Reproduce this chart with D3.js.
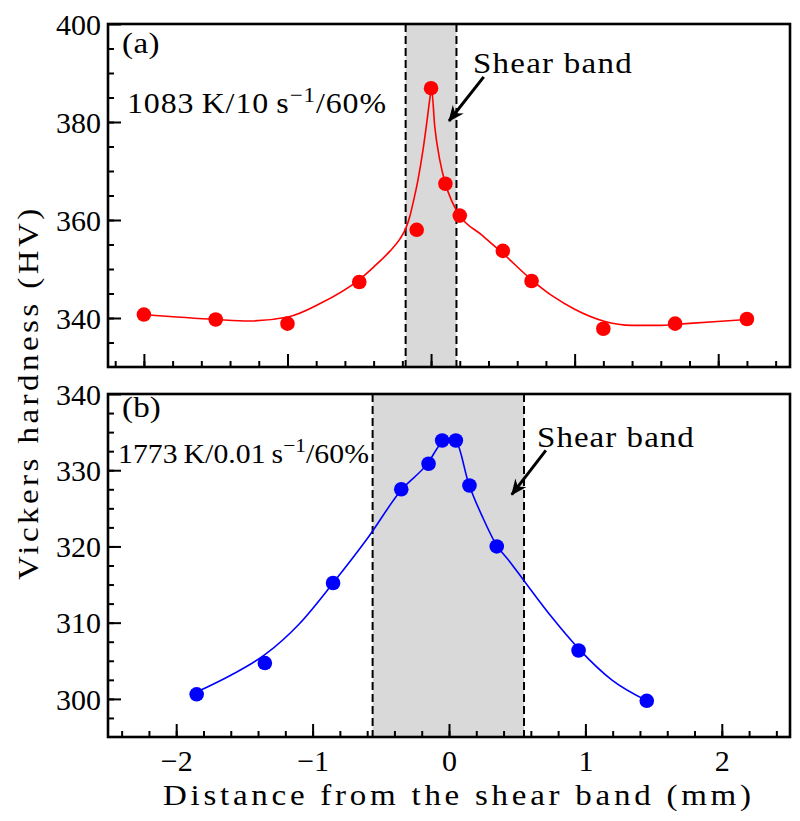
<!DOCTYPE html>
<html>
<head>
<meta charset="utf-8">
<script src="https://cdn.jsdelivr.net/npm/d3@7"></script>
<style>
  html, body { margin: 0; padding: 0; background: #fff; }
  svg text { font-family: "Liberation Serif", "DejaVu Serif", serif; fill: #000; }
</style>
</head>
<body>
<svg id="chart" width="800" height="821"></svg>
<script>
// ---------------- DATA ----------------
// Panel (a): 1083 K / 10 s^-1 / 60%
const topX  = [-2, -1.5, -1, -0.5, -0.1, 0, 0.1, 0.2, 0.5, 0.7, 1.2, 1.7, 2.2];
const topHV = [340.7, 339.7, 338.85, 347.35, 358.0, 386.9, 367.4, 360.9, 353.7, 347.55, 337.8, 338.85, 339.8];
const topFitX  = [-2.0, -1.5, -1.264, -0.997, -0.776, -0.502, -0.4, -0.288, -0.22, -0.176, -0.149, -0.126, -0.091, -0.056, -0.028, -0.009, 0.003, 0.026, 0.061, 0.100, 0.142, 0.2, 0.35, 0.5, 0.7, 0.85, 1.0, 1.2, 1.4, 1.6, 1.8, 2.2];
const topFitHV = [340.7, 339.7, 339.4, 340.2, 342.9, 347.8, 350.4, 353.6, 356.0, 358.3, 360.6, 363.4, 368.2, 374.3, 380.3, 384.6, 386.9, 379.0, 372.2, 367.4, 364.0, 360.9, 357.0, 353.2, 347.8, 344.4, 341.8, 339.4, 338.5, 338.5, 338.9, 339.7];
const topBand = [-0.177, 0.177];

// Panel (b): 1773 K / 0.01 s^-1 / 60%
const botX  = [-1.85, -1.35, -0.85, -0.35, -0.15, -0.05, 0.05, 0.15, 0.35, 0.95, 1.45];
const botHV = [300.6, 304.7, 315.2, 327.5, 330.85, 333.9, 333.9, 328.0, 320.0, 306.35, 299.75];
const botFitX  = [-1.85, -1.6, -1.35, -1.1, -0.85, -0.6, -0.35, -0.156, -0.05, 0.0, 0.048, 0.145, 0.25, 0.341, 0.45, 0.55, 0.75, 0.95, 1.2, 1.446];
const botFitHV = [300.9, 303.1, 305.8, 309.8, 315.2, 321.0, 327.4, 330.9, 333.7, 334.1, 333.9, 328.2, 323.7, 320.4, 317.9, 315.5, 310.8, 306.6, 302.4, 299.8];
const botBand = [-0.56, 0.55];

// Tick labels
const xMajorTicks = [-2, -1, 0, 1, 2];
const topYTicks = [340, 360, 380, 400];
const botYTicks = [300, 310, 320, 330, 340];

// Texts
const yTitle = "Vickers hardness (HV)";
const xTitle = "Distance from the shear band (mm)";
const bandLabel = "Shear band";

// ---------------- LAYOUT ----------------
const L = 108, R = 790;
const topP = { y0: 24, y1: 367 };
const botP = { y0: 394, y1: 737 };

const svg = d3.select("#chart");

const xTop = d3.scaleLinear().domain([-2.25, 2.5]).range([L, R]);
const yTop = d3.scaleLinear().domain([330, 400]).range([topP.y1, topP.y0]);
const xBot = d3.scaleLinear().domain([-2.5, 2.5]).range([L, R]);
const yBot = d3.scaleLinear().domain([295, 340]).range([botP.y1, botP.y0]);

function minorRange(a, b, step) {
  const out = [];
  const n = Math.round((b - a) / step);
  for (let i = 0; i <= n; i++) out.push(+(a + i * step).toFixed(4));
  return out;
}

function drawPanel(cfg) {
  const { x, y, p, band, fx, fy, px, py, color, yTicks, yMinor, xMinor, showXLabels } = cfg;
  const g = svg.append("g");
  g.append("rect")
    .attr("x", x(band[0])).attr("y", p.y0)
    .attr("width", x(band[1]) - x(band[0])).attr("height", p.y1 - p.y0)
    .attr("fill", "#d9d9d9");
  band.forEach(b => {
    g.append("line")
      .attr("x1", x(b)).attr("x2", x(b)).attr("y1", p.y0).attr("y2", p.y1)
      .attr("stroke", "#000").attr("stroke-width", 2).attr("stroke-dasharray", "8,4");
  });
  const xMaj = d3.axisBottom(x).tickValues(xMajorTicks).tickSizeInner(-13).tickSizeOuter(0)
    .tickFormat(showXLabels ? (d => d < 0 ? "\u2212" + Math.abs(d) : d) : "");
  const gx = g.append("g").attr("transform", `translate(0,${p.y1})`).call(xMaj);
  gx.select(".domain").remove();
  gx.selectAll("line").attr("stroke", "#000").attr("stroke-width", 2);
  gx.selectAll("text").attr("font-size", 30).attr("font-family", "Liberation Serif").attr("dy", "0.71em").attr("y", 13);
  const xMin = d3.axisBottom(x).tickValues(xMinor).tickSizeInner(-6).tickSizeOuter(0).tickFormat("");
  const gxm = g.append("g").attr("transform", `translate(0,${p.y1})`).call(xMin);
  gxm.select(".domain").remove();
  gxm.selectAll("line").attr("stroke", "#000").attr("stroke-width", 2);

  const yMaj = d3.axisLeft(y).tickValues(yTicks).tickSizeInner(-13).tickSizeOuter(0);
  const gy = g.append("g").attr("transform", `translate(${L},0)`).call(yMaj);
  gy.select(".domain").remove();
  gy.selectAll("line").attr("stroke", "#000").attr("stroke-width", 2);
  gy.selectAll("text").attr("font-size", 30).attr("font-family", "Liberation Serif").attr("x", -7).attr("dy", "0.34em");
  const yMin = d3.axisLeft(y).tickValues(yMinor).tickSizeInner(-6).tickSizeOuter(0).tickFormat("");
  const gym = g.append("g").attr("transform", `translate(${L},0)`).call(yMin);
  gym.select(".domain").remove();
  gym.selectAll("line").attr("stroke", "#000").attr("stroke-width", 2);

  const line = d3.line().x(d => x(d[0])).y(d => y(d[1])).curve(d3.curveMonotoneX);
  g.append("path").datum(d3.zip(fx, fy))
    .attr("d", line).attr("fill", "none").attr("stroke", color).attr("stroke-width", 1.6);
  g.selectAll("circle.pt").data(d3.zip(px, py)).join("circle")
    .attr("class", "pt").attr("cx", d => x(d[0])).attr("cy", d => y(d[1])).attr("r", 7.3)
    .attr("fill", color);
  g.append("rect").attr("x", L).attr("y", p.y0).attr("width", R - L).attr("height", p.y1 - p.y0)
    .attr("fill", "none").attr("stroke", "#000").attr("stroke-width", 2.6);
  return g;
}

drawPanel({ x: xTop, y: yTop, p: topP, band: topBand, fx: topFitX, fy: topFitHV, px: topX, py: topHV,
  color: "#ff0000", yTicks: topYTicks, yMinor: minorRange(335, 395, 5), xMinor: minorRange(-2.2, 2.4, 0.2), showXLabels: false });
drawPanel({ x: xBot, y: yBot, p: botP, band: botBand, fx: botFitX, fy: botFitHV, px: botX, py: botHV,
  color: "#0000ff", yTicks: botYTicks, yMinor: minorRange(297.5, 337.5, 2.5), xMinor: minorRange(-2.4, 2.4, 0.2), showXLabels: true });

// arrowhead marker
const defs = svg.append("defs");
defs.append("marker").attr("id", "arr").attr("viewBox", "-16 -8 18 16")
  .attr("refX", 0).attr("refY", 0).attr("markerWidth", 18).attr("markerHeight", 16)
  .attr("markerUnits", "userSpaceOnUse").attr("orient", "auto")
  .append("path").attr("d", "M1,0 L-15,-7 L-10,0 L-15,7 Z").attr("fill", "#000");

function arrow(x, y, from, to) {
  svg.append("line")
    .attr("x1", x(from[0])).attr("y1", y(from[1]))
    .attr("x2", x(to[0])).attr("y2", y(to[1]))
    .attr("stroke", "#000").attr("stroke-width", 3).attr("marker-end", "url(#arr)");
}
arrow(xTop, yTop, [0.367, 389.2], [0.125, 380.2]);
arrow(xBot, yBot, [0.71, 332.6], [0.46, 326.8]);

// fit text to a target width: mild horizontal stretch, rest as letter spacing
function fitText(t, xx, yy, width, rotate) {
  const n = t.text().length;
  const w0 = t.node().getComputedTextLength();
  const k0 = Math.min(1.1, width / w0);
  const ls = Math.max(0, (width / k0 - w0) / n);
  t.style("letter-spacing", ls + "px");
  const w1 = t.node().getComputedTextLength();
  const k = width / w1;
  // with text-anchor middle, letter spacing shifts the trailing space; fine for our use
  if (rotate) t.attr("transform", `translate(${xx},${yy}) rotate(-90) scale(${k},1)`);
  else t.attr("transform", `translate(${xx},${yy}) scale(${k},1)`);
  return t;
}
function label(txt, xx, yy, size, width) {
  const t = svg.append("text").attr("font-size", size).text(txt);
  return fitText(t, xx, yy, width);
}
function condLabel(parts, xx, yy, size, width) {
  const t = svg.append("text").attr("font-size", size);
  t.append("tspan").text(parts[0]);
  t.append("tspan").attr("dy", -11).attr("font-size", size * 0.72).text("\u22121");
  t.append("tspan").attr("dy", 11).text(parts[1]);
  return fitText(t, xx, yy, width);
}

label("(a)", 122, 53, 30, 38);
condLabel(["1083\u2009K/10\u2009s", "/60%"], 127, 113, 29, 260);
label(bandLabel, 473, 73, 30, 160);

label("(b)", 122, 417, 30, 39);
condLabel(["1773\u2009K/0.01\u2009s", "/60%"], 118, 463, 27, 251);
label(bandLabel, 537, 447, 30, 158);

// axis titles
label(xTitle, 163, 805, 30, 592);
const yt = svg.append("text").attr("font-size", 30).text(yTitle);
fitText(yt, 38, 580, 375, true);
</script>
</body>
</html>
